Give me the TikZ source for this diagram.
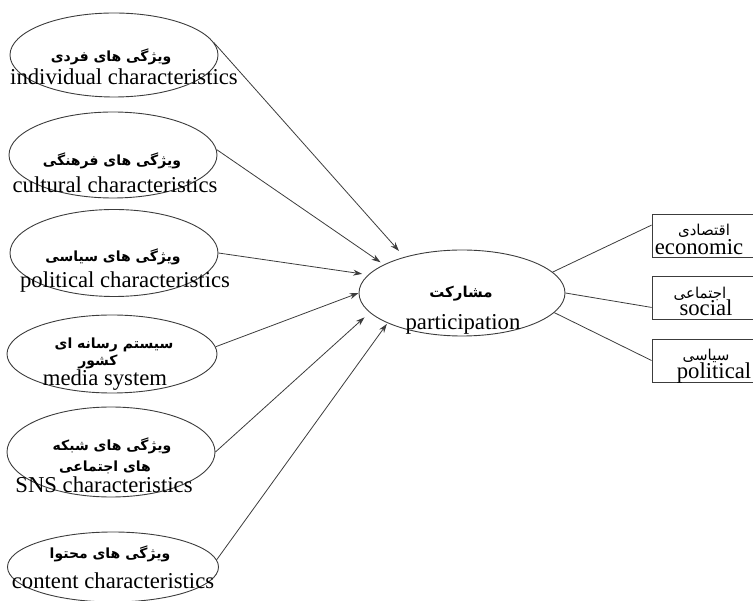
\documentclass[tikz,border=0pt]{standalone}
\usepackage{fontspec}
\setmainfont{Liberation Serif}
\newfontfamily\farsi[Script=Arabic]{DejaVu Sans}
\TeXXeTstate=1
\usetikzlibrary{shapes.geometric, arrows.meta, positioning}
\definecolor{linegray}{RGB}{60,60,60}
\tikzset{
  oval/.style={ellipse, draw=linegray, line width=0.9pt, minimum width=208pt,
               minimum height=86pt, inner sep=0pt},
  dimbox/.style={rectangle, draw=linegray, line width=0.9pt, minimum width=106pt,
                 minimum height=43pt, inner sep=0pt},
  fatext/.style={font=\farsi\bfseries\fontsize{14}{17}\selectfont, inner sep=0pt},
  fathin/.style={font=\farsi\fontsize{15}{18}\selectfont, inner sep=0pt},
  entext/.style={font=\fontsize{22.7}{26}\selectfont, inner sep=0pt, anchor=base},
  arrow/.style={-{Stealth[length=9pt, width=6pt]}, line width=0.8pt, color=linegray},
  link/.style={line width=0.8pt, color=linegray},
}

\begin{document}
\begin{tikzpicture}[x=1pt, y=-1pt]
  \useasboundingbox (0,0) rectangle (753,601);

  % factors
  \node[oval, minimum height=84pt] (e1) at (114,55) {};
  \node[oval] (e2) at (113,155) {};
  \node[oval, minimum height=87pt] (e3) at (114,253) {};
  \node[oval, minimum width=210pt, minimum height=78pt] (e4) at (112,354) {};
  \node[oval, minimum height=90pt] (e5) at (111,452) {};
  \node[oval, minimum width=211pt, minimum height=70pt] (e6) at (113,567) {};

  \node[fatext] (e1fa) at (111,57) {\beginR ویژگی های فردی\endR};
  \node[entext] (e1en) at (124,85) {individual characteristics};
  \node[fatext] (e2fa) at (112,161) {\beginR ویژگی های فرهنگی\endR};
  \node[entext] (e2en) at (115,193) {cultural characteristics};
  \node[fatext] (e3fa) at (113,257) {\beginR ویژگی های سیاسی\endR};
  \node[entext] (e3en) at (125,288) {political characteristics};
  \node[fatext] (e4fa) at (114,345) {\beginR سیستم رسانه ای\endR};
  \node[fatext] (e4fb) at (98,362) {\beginR کشور\endR};
  \node[entext] (e4en) at (105,386) {media system};
  \node[fatext] (e5fa) at (112,446) {\beginR ویژگی های شبکه\endR};
  \node[fatext] (e5fb) at (105,467) {\beginR های اجتماعی\endR};
  \node[entext] (e5en) at (104,493) {SNS characteristics};
  \node[fatext] (e6fa) at (110,554) {\beginR ویژگی های محتوا\endR};
  \node[entext] (e6en) at (113,588) {content characteristics};

  % participation
  \node[oval, minimum width=206pt] (p) at (462,293) {};
  \node[fatext, font=\farsi\bfseries\fontsize{15}{18}\selectfont] (pfa) at (461,294) {\beginR مشارکت\endR};
  \node[entext] (pen) at (463,330) {participation};

  % dimensions
  \node[dimbox] (d1) at (705,235.5) {};
  \node[dimbox] (d2) at (705,298) {};
  \node[dimbox] (d3) at (705,360.5) {};
  \node[fathin] (d1fa) at (704,231) {\beginR اقتصادی\endR};
  \node[entext] (d1en) at (699,255) {economic};
  \node[fathin] (d2fa) at (700,294) {\beginR اجتماعی\endR};
  \node[entext] (d2en) at (706,316) {social};
  \node[fathin] (d3fa) at (706,356) {\beginR سیاسی\endR};
  \node[entext] (d3en) at (714,379) {political};

  \draw[arrow, shorten >=8pt] (e1.7) -- (p.148);
  \draw[arrow, shorten >=4pt] (e2.3) -- (p.160);
  \draw[arrow, shorten >=6pt] (e3.east) -- (p.169);
  \draw[arrow] (e4.4) -- (p.west);
  \draw[arrow, shorten >=7pt] (e5.east) -- (p.192);
  \draw[arrow, shorten >=1pt] (e6.4) -- (p.202);

  \draw[link] (p.13) -- (d1.169);
  \draw[link] (p.east) -- (d2.190);
  \draw[link] (p.348) -- (d3.west);
\end{tikzpicture}
\end{document}
